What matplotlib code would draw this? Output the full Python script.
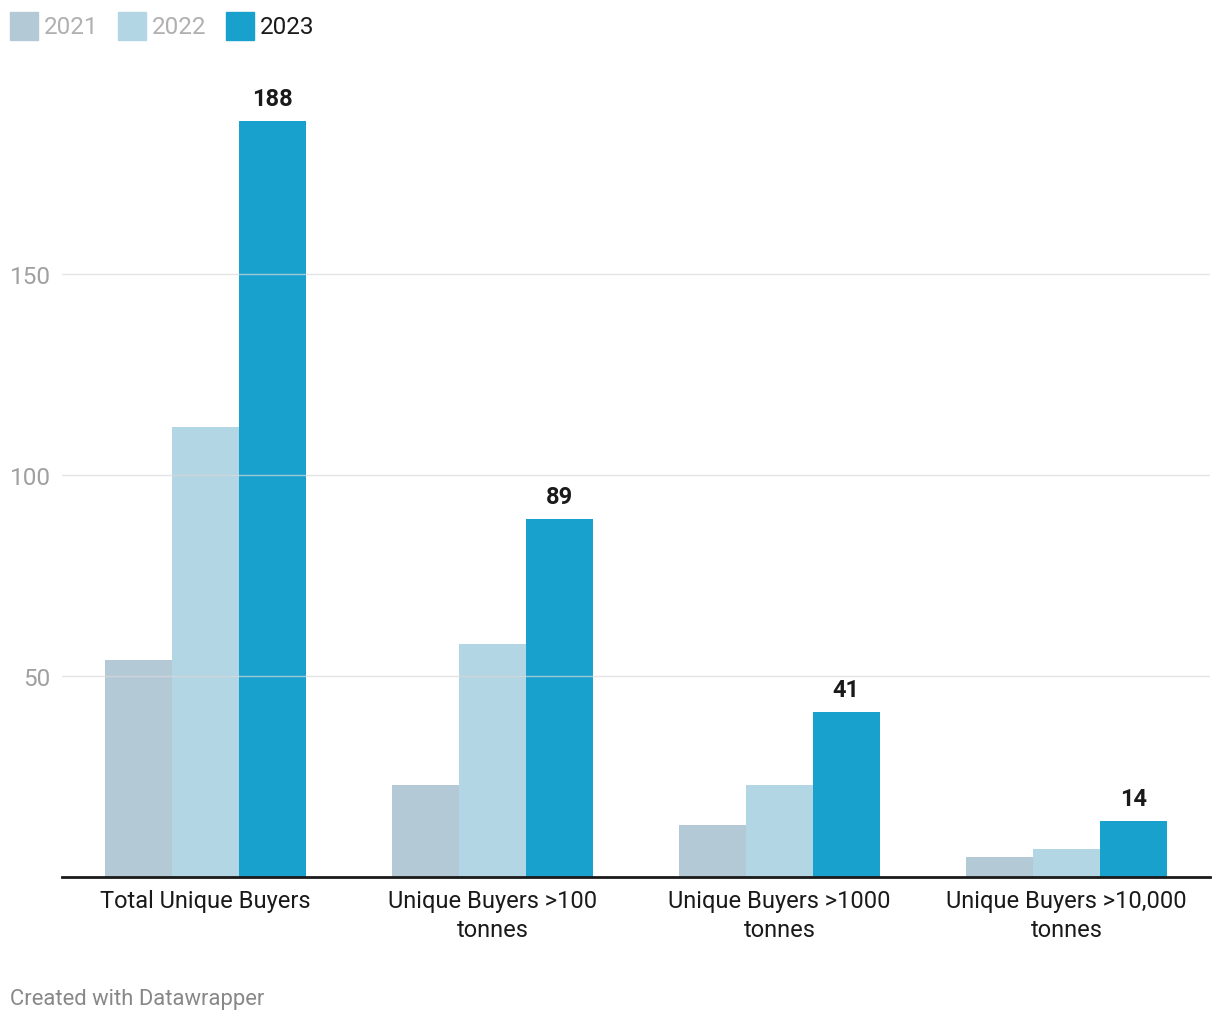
import matplotlib.pyplot as plt
from matplotlib.patches import Rectangle

categories = ["Total Unique Buyers", "Unique Buyers >100\ntonnes",
              "Unique Buyers >1000\ntonnes", "Unique Buyers >10,000\ntonnes"]
years = ["2021", "2022", "2023"]
v2021 = [54, 23, 13, 5]
v2022 = [112, 58, 23, 7]
v2023 = [188, 89, 41, 14]
yticks = [50, 100, 150]

colors = ["#b3c9d6", "#b2d6e4", "#18a1cd"]
legend_text_colors = ["#b0b0b0", "#b0b0b0", "#1a1a1a"]

plt.rcParams['font.family'] = ['Roboto', 'DejaVu Sans']

W, H = 1220, 1020
fig = plt.figure(figsize=(W / 100, H / 100), dpi=100)
ax = fig.add_axes([62 / W, (H - 878) / H, 1148 / W, 798 / H])

x = list(range(len(categories)))
bw = 0.233
for i, vals in enumerate([v2021, v2022, v2023]):
    pos = [p + (i - 1) * bw for p in x]
    ax.bar(pos, vals, width=bw, color=colors[i], zorder=1)

# labels only on 2023 bars
for p, v in zip(x, v2023):
    ax.text(p + bw, v + 2.7, str(v), ha='center', va='bottom',
            fontsize=17, fontweight='bold', color='#1a1a1a')

ax.set_xlim(-0.5, 3.5)
ax.set_ylim(0, 198.5)
ax.set_yticks(yticks)
ax.set_yticklabels([str(t) for t in yticks])
ax.set_xticks(x)
ax.set_xticklabels(categories, fontsize=17, color='#1a1a1a', linespacing=1.3)
ax.tick_params(axis='x', length=0, pad=9)
ax.tick_params(axis='y', length=0, pad=8, labelsize=17.5, labelcolor='#a0a0a0')

for t in yticks:
    ax.axhline(t, color='#d9d9d9', lw=1, alpha=0.7, zorder=2)

for s in ['top', 'right', 'left']:
    ax.spines[s].set_visible(False)
ax.spines['bottom'].set_color('#1a1a1a')
ax.spines['bottom'].set_linewidth(2)
ax.spines['bottom'].set_zorder(3)

# legend drawn by hand
sq_x = [10, 118, 226]
for i, yr in enumerate(years):
    fig.add_artist(Rectangle((sq_x[i] / W, (H - 41) / H), 28 / W, 28 / H,
                             transform=fig.transFigure, color=colors[i]))
    fig.text((sq_x[i] + 34) / W, (H - 27) / H, yr, fontsize=17.5,
             color=legend_text_colors[i], va='center', ha='left')

fig.text(10 / W, (H - 1000) / H, "Created with Datawrapper", fontsize=15.8,
         color='#888888', va='center', ha='left')

plt.savefig("out.png", dpi=100)
plt.close()
